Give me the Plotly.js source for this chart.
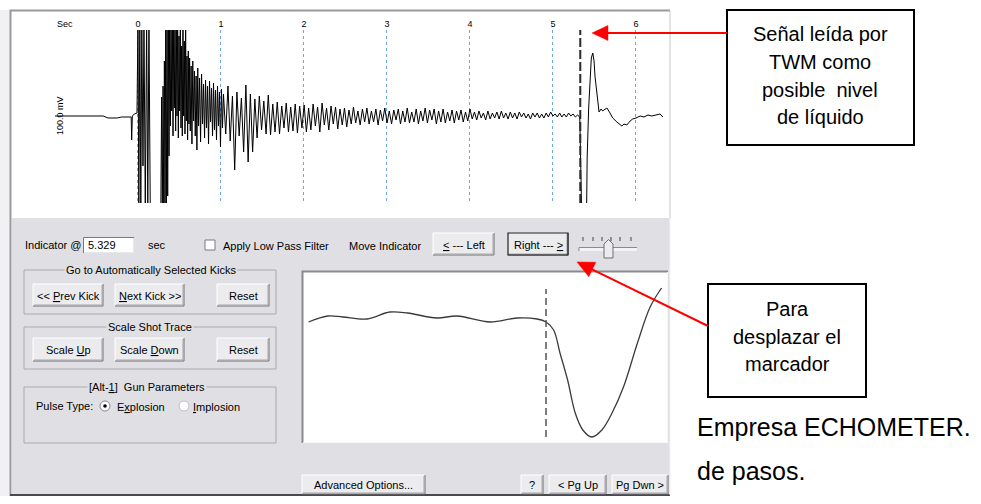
<!DOCTYPE html>
<html>
<head>
<meta charset="utf-8">
<script src="https://cdn.plot.ly/plotly-3.0.1.min.js"></script>
<style>html,body{margin:0;padding:0;background:#fff;overflow:hidden}#chart{width:981px;height:504px}</style>
</head>
<body>
<div id="chart"></div>
<script>
// ---------------- DATA ----------------
// main shot trace (time in seconds, amplitude in screen mV units)
const traceTime = [
  -1.00, -0.60, -0.42, -0.36, -0.25, -0.20, -0.10, -0.082, -0.076, -0.068, -0.045, -0.012,
  0.000, 0.010, 0.022, 0.034, 0.046, 0.060, 0.072, 0.088, 0.104, 0.118, 0.132, 0.148, 0.160,
  0.275, 0.285, 0.293, 0.302, 0.310, 0.318, 0.326, 0.334, 0.342, 0.350,
  0.358, 0.366, 0.374, 0.382, 0.390, 0.398, 0.406, 0.414, 0.422, 0.430,
  0.438, 0.446, 0.454, 0.462, 0.470, 0.478, 0.486, 0.494, 0.502, 0.510,
  0.518, 0.526, 0.534, 0.542, 0.550, 0.558, 0.566, 0.574, 0.582, 0.590,
  0.598, 0.606, 0.614, 0.622, 0.630, 0.640, 0.650, 0.660, 0.670, 0.680,
  0.690, 0.700, 0.710, 0.720, 0.730, 0.742, 0.754, 0.766, 0.778, 0.790,
  0.802, 0.814, 0.826, 0.838, 0.850, 0.862, 0.874, 0.886, 0.898, 0.910,
  0.922, 0.934, 0.946, 0.958, 0.970, 0.982, 0.994, 1.006, 1.018,
  1.030, 1.057, 1.084, 1.111, 1.138, 1.165, 1.192, 1.219, 1.246, 1.273,
  1.300, 1.327, 1.354, 1.381, 1.408, 1.435, 1.462, 1.489, 1.516, 1.543,
  1.570, 1.597, 1.624, 1.651, 1.678, 1.705, 1.732, 1.759, 1.786, 1.813,
  1.840, 1.867, 1.894, 1.921, 1.948, 1.975, 2.002, 2.029, 2.056, 2.083,
  2.110, 2.137, 2.164, 2.191, 2.218, 2.245, 2.272, 2.299, 2.326, 2.353,
  2.380, 2.407, 2.434, 2.461, 2.488, 2.515, 2.542, 2.569, 2.596, 2.623,
  2.650, 2.677, 2.704, 2.731, 2.758, 2.785, 2.812, 2.839, 2.866, 2.893,
  2.920, 2.947, 2.974, 3.001, 3.028, 3.055, 3.082, 3.109, 3.136, 3.163,
  3.190, 3.217, 3.244, 3.271, 3.298, 3.325, 3.352, 3.379, 3.406, 3.433,
  3.460, 3.487, 3.514, 3.541, 3.568, 3.595, 3.622, 3.649, 3.676, 3.703,
  3.730, 3.757, 3.784, 3.811, 3.838, 3.865, 3.892, 3.919, 3.946, 3.973,
  4.000, 4.027, 4.054, 4.081, 4.108, 4.135, 4.162, 4.189, 4.216, 4.243,
  4.270, 4.297, 4.324, 4.351, 4.378, 4.405, 4.432, 4.459, 4.486, 4.513,
  4.540, 4.567, 4.594, 4.621, 4.648, 4.675, 4.702, 4.729, 4.756, 4.783,
  4.810, 4.837, 4.864, 4.891, 4.918, 4.945, 4.972, 4.999, 5.026, 5.053,
  5.080, 5.107, 5.134, 5.161, 5.188, 5.215, 5.242, 5.269, 5.296, 5.323,
  5.337, 5.345, 5.405, 5.412, 5.430, 5.445, 5.462, 5.480, 5.495, 5.506,
  5.530, 5.555, 5.580, 5.600, 5.614, 5.650, 5.687, 5.720, 5.770, 5.807,
  5.830, 5.855, 5.890, 5.930, 5.960, 6.000, 6.050, 6.096, 6.145, 6.190,
  6.240, 6.290, 6.325
];
const traceMv = [
  0, 0, 0, -2, -2, -1, -1, -1, -24, 0, 2, 3,
  95, -95, 95, -95, 95, -50, 95, -95, 95, -95, 95, -95, -95,
  -95, 19, -95, 30, -95, 55, -95, 95, -95, 95,
  -80, 95, -40, 95, -10, 95, 5, 95, -20, 95,
  8, 95, -15, 95, 0, 95, -22, 80, 5, 95,
  -12, 70, -20, 95, 0, 75, -18, 90, -5, 60,
  -24, 65, -8, 58, -15, 50, -28, 55, -5, 45,
  -20, 40, -34, 48, -10, 38, -26, 42, -8, 32,
  -22, 36, -12, 30, -28, 35, -6, 28, -20, 33,
  -14, 26, -24, 30, -10, 24, -31, 27, -12,
  22, -18, 30, -25, 20, -54, 24, -20, 18, -36,
  31, -46, 22, -36, 17, -22, 20, -14, 15, -18,
  21, -19, 12, -16, 14, -18, 10, -12, 13, -16,
  9, -15, 12, -17, 10, -12, 11, -16, 8, -14,
  12, -10, 9, -16, 13, -9, 8, -14, 10, -8,
  9, -13, 7, -9, 8, -11, 6, -8, 9, -7,
  5, -9, 7, -6, 8, -8, 5, -6, 7, -9,
  6, -5, 8, -7, 5, -8, 6, -4, 7, -8,
  5, -6, 8, -7, 4, -6, 7, -8, 5, -5,
  8, -7, 6, -4, 7, -8, 5, -6, 7, -7,
  4, -5, 6, -7, 5, -4, 6, -6, 4, -5,
  7, -3, 4, -4, 5, -2, 3, -4, 5, -3,
  3, -2, 4, -3, 5, -2, 3, -3, 4, -2,
  3, -3, 4, -1, 3, -2, 2, -3, 3, -1,
  3, -2, 2, -2, 3, -1, 4, 0, 2, -1,
  3, -1, 2, -1, 3, 0, 2, -1, 1, -1,
  -60, -95, -95, -42, 8, 40, 58, 63, 55, 40,
  20, 4, 7, 5, 6, 8, 3, -2, -6, -8,
  -10, -8, -9, -5, -3, -2, 0, -1, 1, 0,
  1, 2, -1
];
const indicatorTime = 5.329;
const indicatorText = '5.329';
// zoomed trace around the indicator (lower panel)
const zoomTime = [5.142, 5.157, 5.169, 5.188, 5.206, 5.220, 5.243, 5.259, 5.285, 5.306, 5.322, 5.329,
                  5.335, 5.340, 5.346, 5.352, 5.358, 5.365, 5.373, 5.381, 5.390, 5.401, 5.411, 5.420];
const zoomMv = [-4, 2, 1, -1, 6, 5, 0, 2, -4, 0, -1, -4,
                -12, -35, -62, -95, -112, -119, -112, -95, -69, -25, 11, 30];
const tickValues = [0, 1, 2, 3, 4, 5, 6];
const tickLabels = ['0', '1', '2', '3', '4', '5', '6'];

// ---------------- LAYOUT HELPERS ----------------
const W = 981, H = 504;
const px = v => v / W;
const py = v => 1 - v / H;
const FONT = 'Liberation Sans, Arial, sans-serif';
const BG = '#e0dfe3';
const shapes = [];
const annotations = [];

function rect(x0, y0, x1, y1, fill, lc, lw, layer) {
  shapes.push({type: 'rect', xref: 'paper', yref: 'paper',
    x0: px(x0), x1: px(x1), y0: py(y1), y1: py(y0),
    fillcolor: fill || 'rgba(0,0,0,0)',
    line: {color: lc || 'rgba(0,0,0,0)', width: lw === undefined ? 1 : lw},
    layer: layer || 'above'});
}
function path(pts, color, w, fill, layer) {
  let d = pts.map((p, i) => (i ? 'L' : 'M') + px(p[0]).toFixed(5) + ',' + py(p[1]).toFixed(5)).join(' ');
  if (fill) d += ' Z';
  shapes.push({type: 'path', xref: 'paper', yref: 'paper', path: d,
    fillcolor: fill || 'rgba(0,0,0,0)',
    line: {color: color || 'rgba(0,0,0,0)', width: w === undefined ? 1 : w},
    layer: layer || 'above'});
}
function circle(cx, cy, r, fill, lc, lw) {
  shapes.push({type: 'circle', xref: 'paper', yref: 'paper',
    x0: px(cx - r), x1: px(cx + r), y0: py(cy + r), y1: py(cy - r),
    fillcolor: fill, line: {color: lc || 'rgba(0,0,0,0)', width: lw || 0}});
}
function text(x, y, t, size, anchor, extra) {
  annotations.push(Object.assign({xref: 'paper', yref: 'paper', x: px(x), y: py(y),
    text: t, showarrow: false, xanchor: anchor || 'center', yanchor: 'middle',
    font: {family: FONT, size: size || 11, color: '#000'}}, extra || {}));
}
function button(x0, y0, x1, y1, t, isDefault) {
  rect(x0, y0, x1, y1, '#ececef', null, 0);
  path([[x0, y1], [x0, y0], [x1, y0]], '#ffffff', 1);
  path([[x0, y1], [x1, y1], [x1, y0]], '#6f6f73', 1);
  path([[x0 + 1, y1 - 1], [x1 - 1, y1 - 1], [x1 - 1, y0 + 1]], '#a8a8ac', 1);
  if (isDefault) rect(x0, y0, x1, y1, null, '#1a1a1a', 1.2);
  text((x0 + x1) / 2, (y0 + y1) / 2 + 0.5, t, 11);
}
function group(x0, y0, x1, y1, t, cx) {
  rect(x0, y0, x1, y1, null, '#a9a9ae', 1);
  text(cx, y0, t, 11, 'center', {bgcolor: BG, borderpad: 1});
}
function arrow(tail, tip, len, half) {
  const dx = tail[0] - tip[0], dy = tail[1] - tip[1];
  const L = Math.hypot(dx, dy), ux = dx / L, uy = dy / L;
  const bx = tip[0] + ux * len, by = tip[1] + uy * len;
  path([tail, [tip[0] + ux * (len - 2), tip[1] + uy * (len - 2)]], '#ff0000', 2);
  path([tip, [bx - uy * half, by + ux * half], [bx + uy * half, by - ux * half]], '#ff0000', 0.5, '#ff0000');
}

// ---------------- BACKGROUND FRAME ----------------
rect(0, 10, 10, 496, '#f1f1f3', null, 0, 'below');
rect(12, 218, 670, 495, BG, null, 0, 'below');
rect(302, 271, 668, 443, '#ffffff', null, 0, 'below');
path([[10.5, 496], [10.5, 10.5], [670, 10.5]], '#9a9a9e', 2);
path([[670, 11], [670, 218]], '#c8c8cc', 1);
path([[10, 495], [670, 495]], '#4a4a4e', 2);
path([[670, 218], [670, 495]], '#f4f4f6', 1);

// lower zoom panel sunken border
path([[302.5, 443], [302.5, 271.5], [668, 271.5]], '#8a8a8e', 2);
path([[303, 442.5], [667.5, 442.5], [667.5, 272]], '#f6f6f8', 1);

// ---------------- TOP PANEL LABELS ----------------
text(65, 24, 'Sec', 9);
text(60, 116, '100.0 mV', 9, 'center', {textangle: -90});

// ---------------- CONTROLS ----------------
text(23, 245, 'Indicator @', 11, 'left');
rect(83, 237, 134, 253, '#ffffff', null, 0);
path([[83.5, 253], [83.5, 237.5], [134, 237.5]], '#7a7a7e', 1);
path([[84, 252.5], [133.5, 252.5], [133.5, 238]], '#e8e8ea', 1);
text(86, 245, indicatorText, 11, 'left');
text(146, 245, 'sec', 11, 'left');
rect(205, 240, 215, 250, '#ffffff', '#7a7a7e', 1);
text(221, 246, 'Apply Low Pass Filter', 11, 'left');
text(347, 246, 'Move Indicator', 11, 'left');
button(433, 233, 494, 255, '<u>&lt;</u> --- Left');
button(508, 233, 568, 255, 'Right --- <u>&gt;</u>', true);
// slider
[583, 593, 602, 611, 620, 631].forEach(x => path([[x, 237], [x, 241]], '#404044', 1));
rect(579, 247, 637, 251, '#f4f4f6', null, 0);
path([[579, 251], [579, 247.5], [637, 247.5]], '#8a8a8e', 1);
path([[604, 258], [613, 258], [613, 244], [608.5, 239.5], [604, 244]], '#6f6f73', 1, '#ececef');

group(24, 270, 276, 314, 'Go to Automatically Selected Kicks', 151);
button(33, 284, 103, 306, '&lt;&lt; <u>P</u>rev Kick');
button(115, 284, 184, 306, '<u>N</u>ext Kick &gt;&gt;');
button(217, 284, 269, 306, 'Reset');

group(24, 327, 276, 369, 'Scale Shot Trace', 150);
button(33, 338, 103, 361, 'Scale <u>U</u>p');
button(115, 338, 184, 361, 'Scale <u>D</u>own');
button(217, 338, 269, 361, 'Reset');

group(24, 387, 276, 443, '[Alt-<u>1</u>]  Gun Parameters', 147);
text(34, 406, 'Pulse Type:', 11, 'left');
circle(105, 406, 5, '#ffffff', '#8a8a8e', 1);
circle(105, 406, 1.8, '#000000');
text(115, 407, 'E<u>x</u>plosion', 11, 'left');
circle(184, 406, 5, '#ffffff', '#c0c0c4', 1);
text(191, 407, '<u>I</u>mplosion', 11, 'left');

button(302, 475, 425, 494, 'Advanced Options...');
button(521, 475, 543, 494, '?');
button(549, 475, 606, 494, '&lt; Pg Up');
button(612, 475, 668, 494, 'Pg Dwn &gt;');

// ---------------- CALLOUTS ----------------
rect(727, 10, 914, 145, '#ffffff', '#000000', 2);
const CF = 20;
text(820, 34, 'Señal leída por', CF);
text(820, 62, 'TWM como', CF);
text(820, 90, 'posible  nivel', CF);
text(820, 117, 'de líquido', CF);
arrow([727, 33], [592, 33], 16, 7.5);

rect(708, 284, 866, 397, '#ffffff', '#000000', 2);
text(787, 309, 'Para', CF);
text(787, 337, 'desplazar el', CF);
text(787, 364, 'marcador', CF);
arrow([708, 326], [577, 262], 17, 8);

text(695, 427, 'Empresa ECHOMETER.', 25, 'left');
text(695, 471, 'de pasos.', 25, 'left');

// indicator markers (data-referenced)
shapes.push({type: 'line', xref: 'x', yref: 'y domain', x0: indicatorTime, x1: indicatorTime, y0: 0, y1: 1,
  line: {color: '#2a2a2a', width: 2, dash: '9px,3px'}});
shapes.push({type: 'line', xref: 'x2', yref: 'y2', x0: indicatorTime, x1: indicatorTime, y0: -119, y1: 29,
  line: {color: '#555558', width: 1.5, dash: '7px,4px'}});

// ---------------- TRACES ----------------
const data = [
  {x: traceTime, y: traceMv, xaxis: 'x', yaxis: 'y', type: 'scatter', mode: 'lines',
   line: {color: '#000000', width: 1}, hoverinfo: 'skip'},
  {x: zoomTime, y: zoomMv, xaxis: 'x2', yaxis: 'y2', type: 'scatter', mode: 'lines',
   line: {color: '#3a3a3c', width: 1.3, shape: 'spline', smoothing: 1}, hoverinfo: 'skip'}
];

const layout = {
  width: W, height: H, margin: {l: 0, r: 0, t: 0, b: 0, pad: 0},
  paper_bgcolor: '#ffffff', plot_bgcolor: 'rgba(0,0,0,0)', showlegend: false,
  xaxis: {domain: [px(12), px(670)], range: [-1.518, 6.410], side: 'top', anchor: 'y',
    tickvals: tickValues, ticktext: tickLabels, ticks: '', showline: false, zeroline: false,
    showgrid: true, gridcolor: '#6ea6e8', griddash: 'dot', gridwidth: 1,
    tickfont: {family: FONT, size: 9, color: '#000'}, fixedrange: true},
  yaxis: {domain: [py(203), py(30)], range: [-87, 86], anchor: 'x', showticklabels: false,
    showgrid: false, zeroline: false, ticks: '', fixedrange: true},
  xaxis2: {domain: [px(305), px(665)], range: [5.1392, 5.4227], anchor: 'y2', visible: false, fixedrange: true},
  yaxis2: {domain: [py(440), py(274)], range: [-122, 44], anchor: 'x2', visible: false, fixedrange: true},
  shapes: shapes, annotations: annotations
};

Plotly.newPlot('chart', data, layout, {staticPlot: true, displayModeBar: false});
</script>
</body>
</html>
